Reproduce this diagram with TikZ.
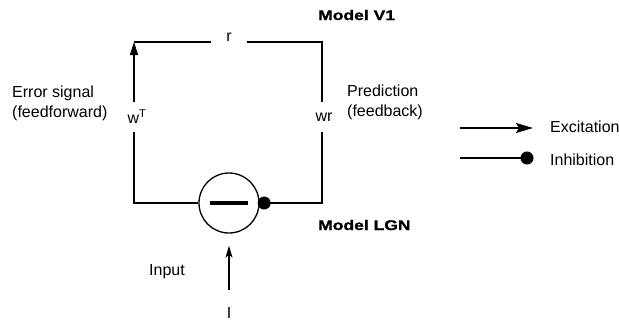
\documentclass[tikz,border=0pt]{standalone}
\usepackage{fontspec}
\setmainfont{Liberation Sans}
\newfontfamily\heavyfont[FakeStretch=1.25, FakeBold=1.2]{Liberation Sans}
\usetikzlibrary{arrows.meta,positioning,calc}

\begin{document}
\begin{tikzpicture}[
    x=1pt, y=-1pt,
    wire/.style={line width=1.4pt, draw=black},
    excite/.style={wire, -{Triangle[length=13pt,width=8pt]}},
    excitekey/.style={wire, -{Stealth[length=17pt,width=10pt,inset=3pt]}},
    inhibit/.style={wire, -{Circle[length=13pt]}},
    feed/.style={wire, -{Stealth[length=12pt,width=7pt,inset=3pt]}},
    neuron/.style={draw, circle, line width=1.3pt, minimum size=60pt, inner sep=0pt},
    txt/.style={font=\fontsize{16}{20}\selectfont, inner sep=0pt},
    modeltitle/.style={font=\heavyfont\bfseries\fontsize{14}{17}\selectfont, inner sep=0pt},
    weight/.style={txt, minimum height=29pt},
]
\useasboundingbox (0,0) rectangle (619,322);

% Loop corners
\coordinate (bl) at (134,203);
\coordinate (tl) at (134,42);
\coordinate (tr) at (322,42);
\coordinate (br) at (322,203);

% Model LGN unit
\node[neuron] (lgn) at (229,203) {\rule[-2pt]{38pt}{4pt}};
\node[modeltitle, anchor=west] (lgnname) at (318,225) {Model LGN};

% Model V1 and weights
\node[modeltitle, anchor=west] (v1) at (318,15) {Model V1};
\node[txt, minimum width=35pt] (r) at (229,37) {r};
\node[weight] (wT) at (137,117) {w\textsuperscript{T}};
\node[weight] (wr) at (324,117) {wr};

% Feedforward and feedback paths
\draw[wire] (lgn.west) -- (bl) -- (bl |- wT.south);
\draw[excite] (bl |- wT.north) -- (tl);
\draw[wire] (tl) -- (tl -| r.west);
\draw[wire] (tl -| r.east) -- (tr) -- (tr |- wr.north);
\draw[inhibit, shorten >=-2pt] (tr |- wr.south) -- (br) -- (lgn.east);

\node[txt, anchor=west, align=left] (err) at (12,103) {Error signal\\(feedforward)};
\node[txt, anchor=west, align=left] (pred) at (347,102) {Prediction\\(feedback)};

% Input
\node[txt] (inp) at (229,313) {I};
\node[txt] (input) at (167,272) {Input};
\draw[feed, shorten <=17pt, shorten >=12pt] (inp) -- (lgn);

% Legend
\coordinate (exstart) at (460,128);
\node[txt, anchor=west] (exc) at (550,127) {Excitation};
\draw[excitekey, shorten >=17pt] (exstart) -- (exc.west |- exstart);
\coordinate (instart) at (460,158);
\node[txt, anchor=west] (inh) at (550,160) {Inhibition};
\draw[inhibit, shorten >=16.5pt] (instart) -- (inh.west |- instart);

\end{tikzpicture}
\end{document}
